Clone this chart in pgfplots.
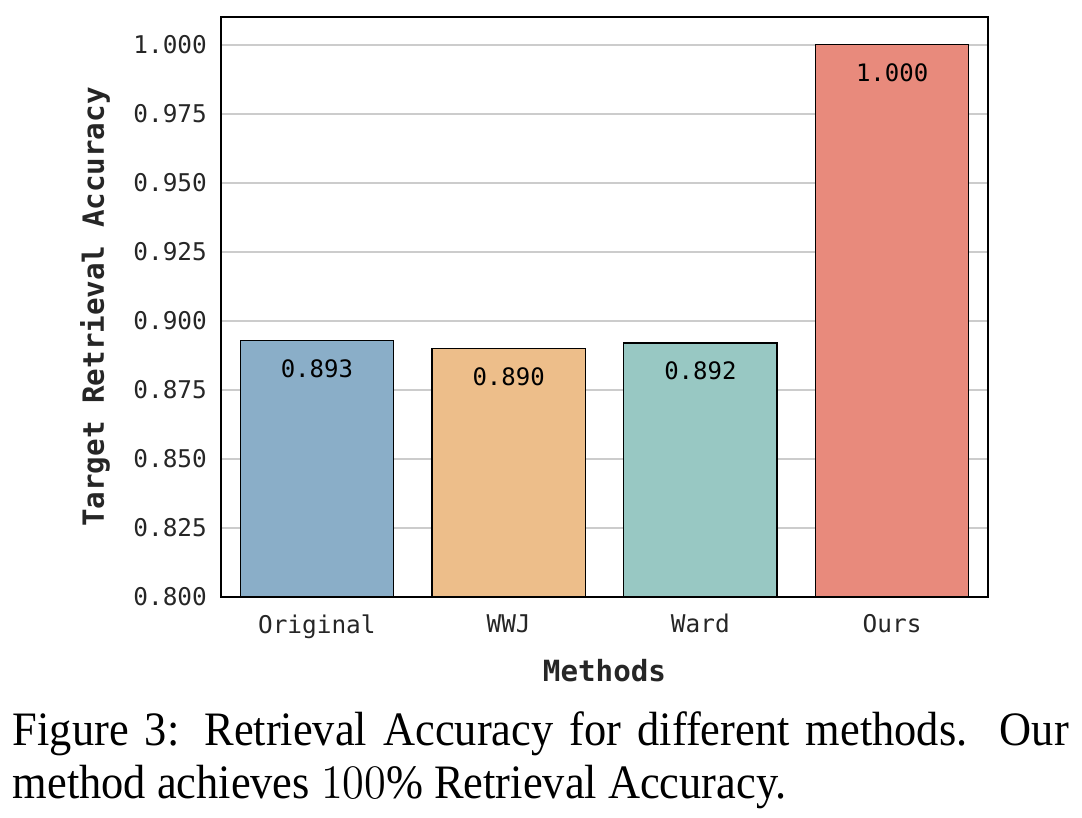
\documentclass[border=0pt]{standalone}
\usepackage{pgfplots}
\pgfplotsset{compat=1.18}
\usepackage{fontspec}
\setmainfont{Liberation Serif}
\setmonofont{DejaVu Sans Mono}
\definecolor{cOrig}{HTML}{8AAEC8}
\definecolor{cWWJ}{HTML}{EDBE8A}
\definecolor{cWard}{HTML}{98C8C3}
\definecolor{cOurs}{HTML}{E88A7C}
\definecolor{txt}{HTML}{262626}
\begin{document}
\begin{tikzpicture}
\useasboundingbox (-55.25pt,-55pt) rectangle (215.25pt,149.25pt);
\begin{axis}[
    width=191.75pt, height=145pt,
    scale only axis,
    ybar, bar width=0.8, bar shift=0pt,
    xmin=-0.5, xmax=3.5,
    ymin=0.8, ymax=1.0101,
    xtick={0,1,2,3},
    xticklabels={Original,WWJ,Ward,Ours},
    ytick={0.8,0.825,0.85,0.875,0.9,0.925,0.95,0.975,1.0},
    /pgf/number format/.cd, fixed, fixed zerofill, precision=3, assume math mode=true,
    /pgfplots/.cd,
    tick label style={font=\ttfamily\fontsize{6.1}{7}\selectfont, text=txt},
    xticklabel style={yshift=-0.8pt},
    major tick length=0pt,
    ymajorgrids=true,
    grid style={draw=black!20, line width=0.4pt},
    axis line style={line width=0.55pt},
    xlabel={Methods},
    ylabel={Target Retrieval Accuracy},
    label style={font=\ttfamily\bfseries\fontsize{7.3}{8}\selectfont, text=txt},
    xlabel style={at={(rel axis cs:0.5,0)}, anchor=center, yshift=-18.5pt},
    ylabel style={at={(rel axis cs:0,0.5)}, anchor=center, yshift=31.5pt},
    nodes near coords,
    point meta=y,
    every node near coord/.append style={anchor=center, yshift=-7pt,
        font=\ttfamily\fontsize{6}{7}\selectfont, text=black},
]
\addplot[fill=cOrig, draw=black, line width=0.3pt] coordinates {(0,0.893)};
\addplot[fill=cWWJ, draw=black, line width=0.3pt] coordinates {(1,0.890)};
\addplot[fill=cWard, draw=black, line width=0.3pt] coordinates {(2,0.892)};
\addplot[fill=cOurs, draw=black, line width=0.3pt] coordinates {(3,1.000)};
\end{axis}
\node[anchor=base west, inner sep=0pt] at (-52.25pt,-37pt)
  {\scalebox{0.925}[1]{\fontsize{12}{14}\selectfont\makebox[285.4pt][s]{Figure 3: Retrieval Accuracy for different methods.\ \ Our}}};
\node[anchor=base west, inner sep=0pt] at (-52.25pt,-50.25pt)
  {\scalebox{0.925}[1]{\fontsize{12}{14}\selectfont method achieves $100\%$ Retrieval Accuracy.}};
\end{tikzpicture}
\end{document}
